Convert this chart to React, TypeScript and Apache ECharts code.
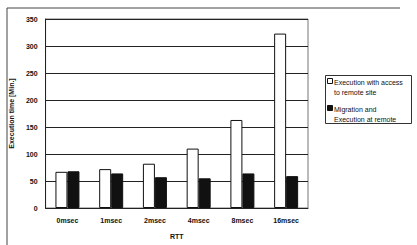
import React, { useEffect, useRef } from "react";
import * as echarts from "echarts";

const categories = ["0msec", "1msec", "2msec", "4msec", "8msec", "16msec"];
const accessRemote = [67, 72, 82, 110, 163, 323];
const migration = [68, 64, 57, 55, 64, 59];
const seriesNames = ["Execution with access\nto remote site", "Migration and\nExecution at remote"];
const yTicks = { min: 0, max: 350, interval: 50 };

export default function App() {
  const ref = useRef<HTMLDivElement>(null);
  useEffect(() => {
    if (!ref.current) return;
    const chart = echarts.init(ref.current, null, { renderer: "svg" });
    const font = "Liberation Sans";
    const legendText = (name: string, y: number) => ({
      type: "text",
      left: 334,
      top: y,
      style: { text: name, fontSize: 7, fill: "#111", fontFamily: font, lineHeight: 10 },
    });
    chart.setOption({
      animation: false,
      backgroundColor: "#fff",
      textStyle: { fontFamily: font },
      grid: { left: 43, right: 109, top: 19, bottom: 35, show: true, borderColor: "#777", borderWidth: 1 },
      xAxis: {
        type: "category",
        data: categories,
        name: "RTT",
        nameLocation: "middle",
        nameGap: 25,
        nameTextStyle: { fontSize: 7, color: "#111", fontWeight: "bold" },
        axisLine: { lineStyle: { color: "#222" } },
        axisTick: { show: false },
        axisLabel: { fontSize: 7, color: "#111", margin: 9, fontWeight: "bold" },
      },
      yAxis: {
        type: "value",
        min: yTicks.min,
        max: yTicks.max,
        interval: yTicks.interval,
        name: "Execution time [Min.]",
        nameLocation: "middle",
        nameGap: 26,
        nameTextStyle: { fontSize: 7, color: "#111", fontWeight: "bold" },
        axisLine: { show: true, lineStyle: { color: "#222" } },
        axisTick: { show: false },
        axisLabel: { fontSize: 7, color: "#111", margin: 8, fontWeight: "bold" },
        splitLine: { lineStyle: { color: "#222", width: 1 } },
      },
      series: [
        {
          name: seriesNames[0],
          type: "bar",
          data: accessRemote,
          barWidth: 12,
          barGap: "0%",
          itemStyle: { color: "#fff", borderColor: "#111", borderWidth: 1 },
        },
        {
          name: seriesNames[1],
          type: "bar",
          data: migration,
          barWidth: 12,
          barGap: "0%",
          itemStyle: { color: "#111", borderColor: "#111", borderWidth: 1 },
        },
      ],
      graphic: [
        { type: "line", shape: { x1: 7, y1: 8, x2: 400, y2: 8 }, style: { stroke: "#444", lineWidth: 1 } },
        { type: "line", shape: { x1: 7, y1: 8, x2: 7, y2: 245 }, style: { stroke: "#444", lineWidth: 1 } },
        { type: "rect", shape: { x: 325.5, y: 75.5, width: 86, height: 48 }, style: { fill: "#fff", stroke: "#333", lineWidth: 1 } },
        { type: "rect", shape: { x: 327.5, y: 78.5, width: 5, height: 5 }, style: { fill: "#fff", stroke: "#111", lineWidth: 1 } },
        { type: "rect", shape: { x: 327.5, y: 105.5, width: 5, height: 5 }, style: { fill: "#111", stroke: "#111", lineWidth: 1 } },
        legendText(seriesNames[0], 77),
        legendText(seriesNames[1], 104),
      ],
    });
    return () => chart.dispose();
  }, []);
  return <div ref={ref} style={{ width: 417, height: 245, position: "absolute", left: 0, top: 0 }} />;
}
